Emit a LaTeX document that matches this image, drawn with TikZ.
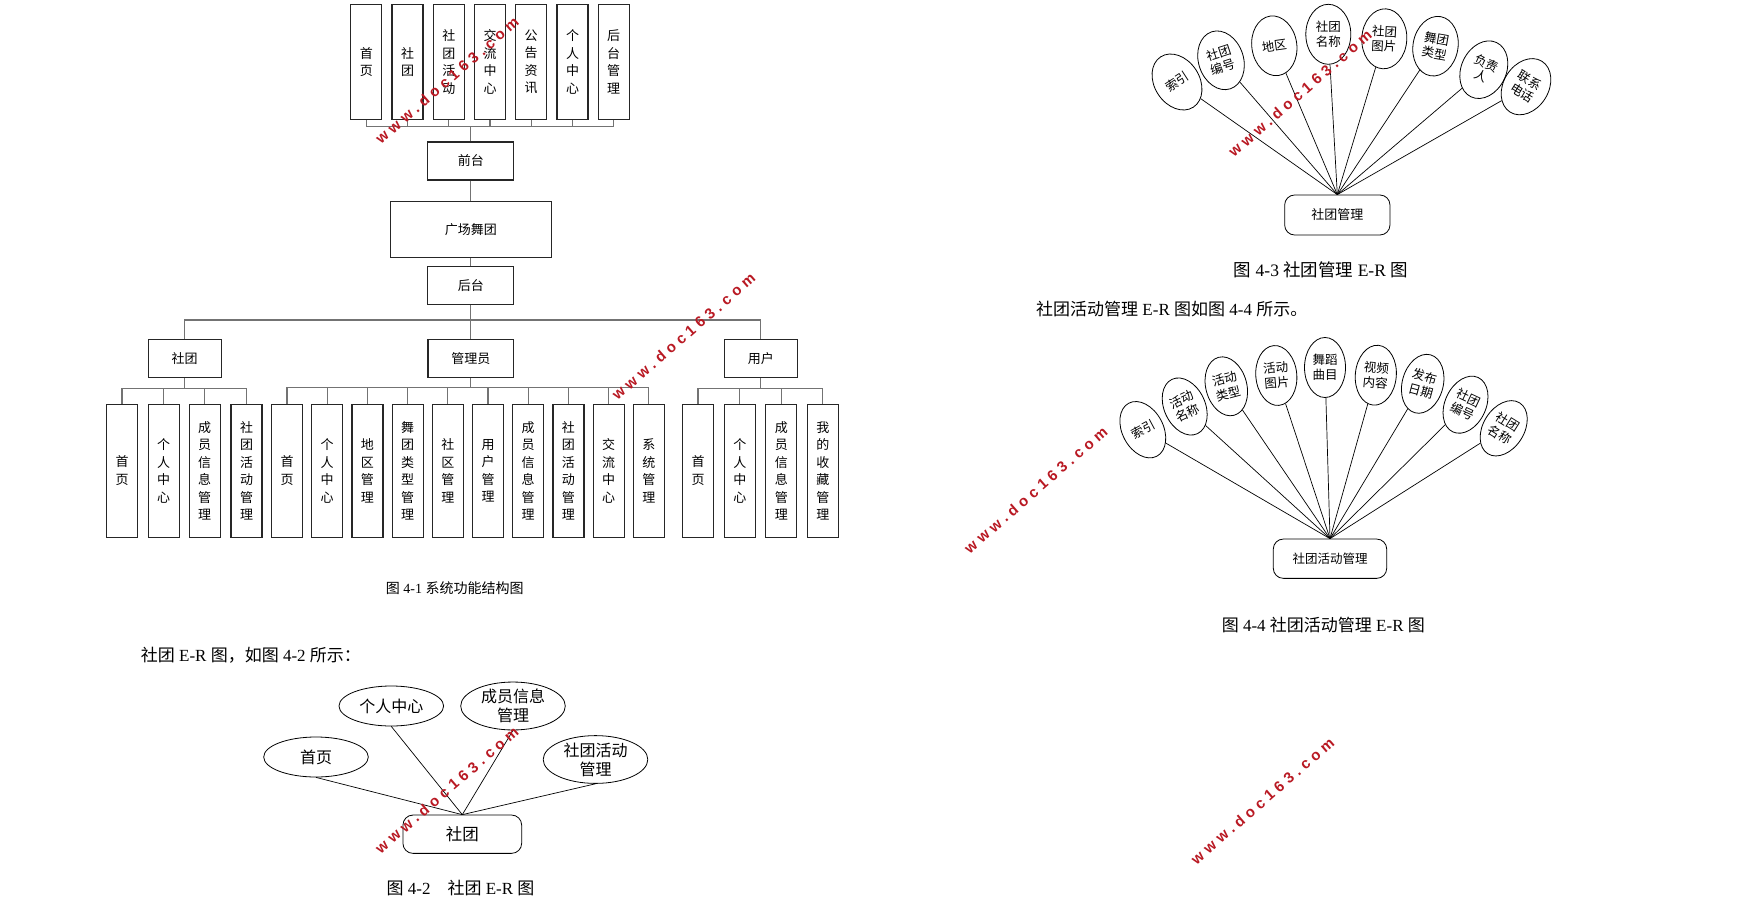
\documentclass[tikz,border=0pt]{standalone}
\usepackage{fontspec}
\setmainfont{Liberation Serif}
\newfontfamily\cjk{Noto Sans CJK SC}
\newfontfamily\wmfont[LetterSpace=30]{Liberation Sans}
\usetikzlibrary{shapes.geometric,calc}
\definecolor{wmred}{RGB}{185,25,35}
\tikzset{
  bx/.style={draw=black!85, line width=1.2pt, inner sep=0pt, align=center, font=\cjk\fontsize{13}{17.5}\selectfont},
  vbox/.style={bx, minimum width=31, minimum height=133},
  tbox/.style={bx, minimum width=31, minimum height=115},
  conn/.style={draw=black!55, line width=1.3pt},
  ell/.style={draw, ellipse, line width=0.8pt, inner sep=0pt, align=center},
  eA/.style={ell, minimum width=104.6, minimum height=40, font=\cjk\fontsize{16}{19}\selectfont},
  eB/.style={ell, minimum width=45, minimum height=60, font=\cjk\fontsize{12.5}{14.5}\selectfont},
  eC/.style={ell, minimum width=41, minimum height=60, font=\cjk\fontsize{12.5}{15}\selectfont},
  rbox/.style={draw, rounded corners=10pt, line width=0.8pt, inner sep=0pt},
  erl/.style={draw, line width=0.7pt},
  txt/.style={inner sep=0pt},
  wm/.style={rotate=41, text=wmred, inner sep=0pt, font=\wmfont\bfseries\fontsize{15}{15}\selectfont},
}
\begin{document}
\begin{tikzpicture}[x=1pt,y=-1pt]
\path[use as bounding box, fill=white] (0,0) rectangle (1745,904);

% ---------- Figure 4-1 ----------
\node[tbox] (t1) at (366.3,62) {首\\页};
\node[tbox] (t2) at (407.5,62) {社\\团};
\node[tbox] (t3) at (448.8,62) {社\\团\\活\\动};
\node[tbox] (t4) at (490.0,62) {交\\流\\中\\心};
\node[tbox] (t5) at (531.2,62) {公\\告\\资\\讯};
\node[tbox] (t6) at (572.5,62) {个\\人\\中\\心};
\node[tbox] (t7) at (613.7,62) {后\\台\\管\\理};

\node[bx, minimum width=86, minimum height=38] (qt) at (470.8,161) {前台};
\node[bx, minimum width=161, minimum height=56] (gc) at (470.8,229.3) {广场舞团};
\node[bx, minimum width=86, minimum height=38] (ht) at (470.8,285.2) {后台};

\coordinate (bt) at (470.8,126.7);
\foreach \i in {1,...,7} \draw[conn] (t\i.south) |- (bt);
\draw[conn] (bt) -- (qt.north);
\draw[conn] (qt.south) -- (gc.north);
\draw[conn] (gc.south) -- (ht.north);

\node[bx, minimum width=73, minimum height=38.4] (st) at (184.6,358.5) {社团};
\node[bx, minimum width=85.6, minimum height=38] (gl) at (470.8,358.3) {管理员};
\node[bx, minimum width=73, minimum height=38] (yh) at (760.8,358.3) {用户};

\coordinate (bm) at (470.8,320);
\draw[conn] (ht.south) -- (bm);
\draw[conn] (bm) -| (st.north);
\draw[conn] (bm) -| (yh.north);
\draw[conn] (bm) -- (gl.north);

% club children
\node[vbox] (s1) at (122,470.7) {首\\页};
\node[vbox] (s2) at (163.6,470.7) {个\\人\\中\\心};
\node[vbox] (s3) at (204.6,470.7) {成\\员\\信\\息\\管\\理};
\node[vbox] (s4) at (246.5,470.7) {社\\团\\活\\动\\管\\理};
\coordinate (bs) at (184.6,388.3);
\draw[conn] (st.south) -- (bs);
\foreach \i in {1,...,4} \draw[conn] (bs) -| (s\i.north);

% admin children
\node[vbox] (a1) at (287.0,470.7) {首\\页};
\node[vbox] (a2) at (327.2,470.7) {个\\人\\中\\心};
\node[vbox] (a3) at (367.4,470.7) {地\\区\\管\\理};
\node[vbox] (a4) at (407.6,470.7) {舞\\团\\类\\型\\管\\理};
\node[vbox] (a5) at (447.8,470.7) {社\\区\\管\\理};
\node[vbox] (a6) at (488.0,470.7) {用\\户\\管\\理};
\node[vbox] (a7) at (528.2,470.7) {成\\员\\信\\息\\管\\理};
\node[vbox] (a8) at (568.4,470.7) {社\\团\\活\\动\\管\\理};
\node[vbox] (a9) at (608.6,470.7) {交\\流\\中\\心};
\node[vbox] (a10) at (648.8,470.7) {系\\统\\管\\理};
\coordinate (bg) at (470.8,387.7);
\draw[conn] (gl.south) -- (bg);
\foreach \i in {1,...,10} \draw[conn] (bg) -| (a\i.north);

% user children
\node[vbox] (u1) at (698.0,470.7) {首\\页};
\node[vbox] (u2) at (739.8,470.7) {个\\人\\中\\心};
\node[vbox] (u3) at (781.3,470.7) {成\\员\\信\\息\\管\\理};
\node[vbox] (u4) at (822.8,470.7) {我\\的\\收\\藏\\管\\理};
\coordinate (bu) at (760.8,388.3);
\draw[conn] (yh.south) -- (bu);
\foreach \i in {1,...,4} \draw[conn] (bu) -| (u\i.north);

\node[txt, font=\fontsize{14}{14}\selectfont] (cap1) at (454.7,588.3) {{\cjk 图} 4-1 {\cjk 系统功能结构图}};

% ---------- Figure 4-2 ----------
\node[txt, anchor=west, font=\fontsize{17}{17}\selectfont] (p1) at (140.7,655.7) {{\cjk 社团} E-R {\cjk 图，如图} 4-2 {\cjk 所示：}};

\node[eA] (e1) at (391.3,706) {个人中心};
\node[eA] (e2) at (513,706) {成员信息\\管理};
\node[eA] (e3) at (316,757) {首页};
\node[eA] (e4) at (595.5,759.5) {社团活动\\管理};
\node[rbox, minimum width=118.7, minimum height=38.3, font=\cjk\fontsize{16.5}{16.5}\selectfont] (r42) at (462.3,834.2) {社团};
\foreach \i in {1,...,4} \draw[erl] (e\i.south) -- (r42.north);

\node[txt, font=\fontsize{17}{17}\selectfont] (cap2) at (460.5,888.3) {{\cjk 图} 4-2\quad{\cjk 社团} E-R {\cjk 图}};

% ---------- Figure 4-3 ----------
\node[rbox, minimum width=105.3, minimum height=40, font=\cjk\fontsize{13}{13}\selectfont] (r43) at (1337.3,215) {社团管理};
\node[eB, rotate=33] (m1) at (1177,82) {索引};
\node[eB, rotate=18] (m2) at (1221,60.3) {社团\\编号};
\node[eB, rotate=8] (m3) at (1274.3,45.8) {地区};
\node[eB] (m4) at (1328.3,34.3) {社团\\名称};
\node[eB, rotate=-3] (m5) at (1384.3,38.8) {社团\\图片};
\node[eB, rotate=-10] (m6) at (1435.5,46.2) {舞团\\类型};
\node[eB, rotate=-25] (m7) at (1483.8,69.7) {负责\\人};
\node[eB, rotate=-32] (m8) at (1526,86.7) {联系\\电话};
\foreach \i in {1,...,8} \draw[erl] (m\i) -- (r43.north);

\node[txt, font=\fontsize{17.5}{17.5}\selectfont] (cap3) at (1320.8,270) {{\cjk 图} 4-3 {\cjk 社团管理} E-R {\cjk 图}};
\node[txt, anchor=west, font=\fontsize{17}{17}\selectfont] (p2) at (1036,309) {{\cjk 社团活动管理} E-R {\cjk 图如图} 4-4 {\cjk 所示。}};

% ---------- Figure 4-4 ----------
\node[rbox, minimum width=113.4, minimum height=39.3, font=\cjk\fontsize{12.5}{12.5}\selectfont] (r44) at (1330,558.7) {社团活动管理};
\node[eC, rotate=28] (n1) at (1142.8,429.7) {索引};
\node[eC, rotate=25] (n2) at (1184.7,406.5) {活动\\名称};
\node[eC, rotate=15] (n3) at (1226.3,386.3) {活动\\类型};
\node[eC, rotate=5] (n4) at (1276.3,375.5) {活动\\图片};
\node[eC] (n5) at (1325,367.5) {舞蹈\\曲目};
\node[eC, rotate=-5] (n6) at (1375.8,375.2) {视频\\内容};
\node[eC, rotate=-15] (n7) at (1422.7,383.8) {发布\\日期};
\node[eC, rotate=-25] (n8) at (1465.5,404.7) {社团\\编号};
\node[eC, rotate=-32] (n9) at (1503.7,428.3) {社团\\名称};
\foreach \i in {1,...,9} \draw[erl] (n\i) -- (r44.north);

\node[txt, font=\fontsize{17}{17}\selectfont] (cap4) at (1323.3,625) {{\cjk 图} 4-4 {\cjk 社团活动管理} E-R {\cjk 图}};

% ---------- watermarks ----------
\node[wm] (w1) at (447,80.5) {www.doc163.com};
\node[wm] (w2) at (683.5,336.5) {www.doc163.com};
\node[wm] (w3) at (446.7,790) {www.doc163.com};
\node[wm] (w4) at (1300,93.3) {www.doc163.com};
\node[wm] (w5) at (1035.8,490) {www.doc163.com};
\node[wm] (w6) at (1262.5,800.8) {www.doc163.com};
\end{tikzpicture}
\end{document}
